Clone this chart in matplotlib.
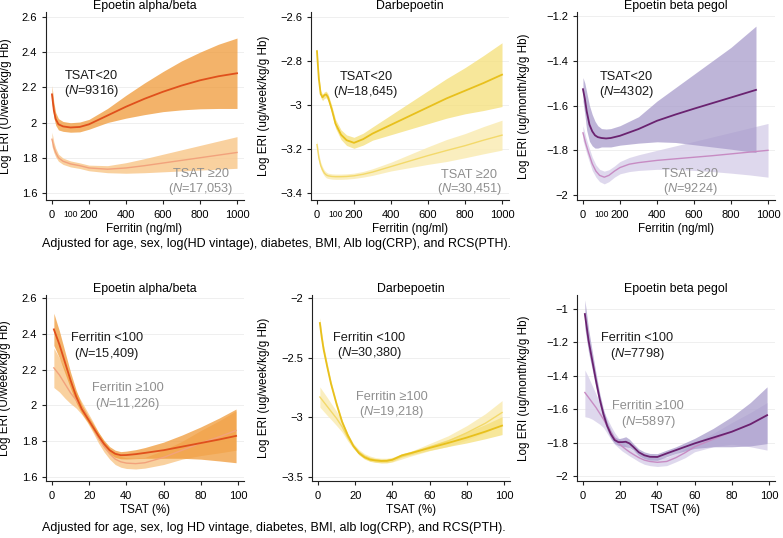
import matplotlib
matplotlib.use('Agg')
import matplotlib.pyplot as plt

plt.rcParams['font.family'] = ['Liberation Sans', 'DejaVu Sans']
plt.rcParams['mathtext.fontset'] = 'custom'
plt.rcParams['mathtext.rm'] = 'Liberation Sans'
plt.rcParams['mathtext.it'] = 'Liberation Sans:italic'

# ---------------- data ----------------
titles = ["Epoetin alpha/beta", "Darbepoetin", "Epoetin beta pegol"]
ylabels = ["Log ERI (U/week/kg/g Hb)", "Log ERI (ug/week/kg/g Hb)", "Log ERI (ug/month/kg/g Hb)"]
caption_top = "Adjusted for age, sex, log(HD vintage), diabetes, BMI, Alb log(CRP), and RCS(PTH)."
caption_bottom = "Adjusted for age, sex, log HD vintage, diabetes, BMI, alb log(CRP), and RCS(PTH)."

# Panel A: Epoetin alpha/beta vs ferritin
FA = [0, 10, 20, 35, 60, 100, 150, 200, 300, 400, 500, 600, 700, 800, 900, 1000]
A_dark = [2.16, 2.07, 2.02, 1.99, 1.978, 1.972, 1.975, 1.99, 2.04, 2.09, 2.135, 2.175, 2.21, 2.24, 2.263, 2.28]
A_dark_lo = [2.11, 2.03, 1.985, 1.958, 1.95, 1.945, 1.947, 1.962, 2.0, 2.025, 2.045, 2.062, 2.072, 2.078, 2.08, 2.08]
A_dark_hi = [2.21, 2.115, 2.057, 2.022, 2.006, 1.999, 2.003, 2.018, 2.08, 2.155, 2.225, 2.29, 2.35, 2.40, 2.445, 2.48]
A_light = [1.905, 1.86, 1.83, 1.80, 1.78, 1.765, 1.755, 1.742, 1.735, 1.742, 1.755, 1.77, 1.785, 1.80, 1.815, 1.83]
A_light_lo = [1.865, 1.83, 1.805, 1.78, 1.762, 1.748, 1.739, 1.726, 1.715, 1.712, 1.715, 1.72, 1.725, 1.73, 1.735, 1.74]
A_light_hi = [1.945, 1.89, 1.855, 1.82, 1.798, 1.782, 1.771, 1.758, 1.755, 1.772, 1.795, 1.82, 1.845, 1.87, 1.895, 1.92]

# Panel B: Darbepoetin vs ferritin
FB = [0, 5, 10, 20, 30, 40, 50, 60, 80, 100, 130, 160, 200, 250, 300, 400, 500, 600, 700, 800, 900, 1000]
B_dark = [-2.755, -2.82, -2.88, -2.95, -2.965, -2.955, -2.952, -2.965, -3.02, -3.085, -3.135, -3.16, -3.172, -3.155, -3.13, -3.09, -3.05, -3.01, -2.97, -2.935, -2.9, -2.862]
B_dark_lo = [-2.767, -2.832, -2.893, -2.965, -2.98, -2.97, -2.967, -2.98, -3.037, -3.105, -3.157, -3.184, -3.197, -3.182, -3.16, -3.135, -3.11, -3.085, -3.06, -3.04, -3.025, -3.007]
B_dark_hi = [-2.743, -2.808, -2.867, -2.935, -2.95, -2.94, -2.937, -2.95, -3.003, -3.065, -3.113, -3.136, -3.147, -3.128, -3.10, -3.045, -2.99, -2.935, -2.88, -2.83, -2.775, -2.717]
B_light = [-3.18, -3.21, -3.24, -3.275, -3.295, -3.31, -3.318, -3.322, -3.325, -3.326, -3.326, -3.325, -3.322, -3.315, -3.305, -3.28, -3.255, -3.23, -3.207, -3.185, -3.16, -3.137]
B_light_lo = [-3.2, -3.228, -3.257, -3.29, -3.309, -3.323, -3.331, -3.334, -3.337, -3.338, -3.338, -3.337, -3.334, -3.328, -3.32, -3.30, -3.285, -3.27, -3.257, -3.24, -3.222, -3.205]
B_light_hi = [-3.16, -3.192, -3.223, -3.26, -3.281, -3.297, -3.305, -3.31, -3.313, -3.314, -3.314, -3.313, -3.31, -3.302, -3.29, -3.26, -3.225, -3.19, -3.157, -3.13, -3.098, -3.069]

# Panel C: Epoetin beta pegol vs ferritin
FC_dark = [0, 10, 20, 35, 50, 65, 80, 100, 125, 150, 200, 300, 400, 500, 600, 700, 800, 935]
C_dark = [-1.527, -1.57, -1.625, -1.685, -1.715, -1.733, -1.741, -1.745, -1.747, -1.745, -1.735, -1.705, -1.668, -1.64, -1.614, -1.589, -1.564, -1.53]
C_dark_lo = [-1.58, -1.64, -1.71, -1.76, -1.78, -1.79, -1.79, -1.785, -1.785, -1.785, -1.777, -1.768, -1.762, -1.765, -1.775, -1.785, -1.795, -1.81]
C_dark_hi = [-1.475, -1.5, -1.54, -1.6, -1.64, -1.67, -1.69, -1.703, -1.705, -1.703, -1.69, -1.65, -1.58, -1.52, -1.46, -1.40, -1.34, -1.245]
FC_light = [0, 15, 30, 50, 70, 90, 115, 140, 170, 200, 250, 300, 400, 500, 600, 700, 800, 900, 1000]
C_light = [-1.722, -1.77, -1.81, -1.86, -1.893, -1.912, -1.92, -1.912, -1.893, -1.877, -1.862, -1.855, -1.845, -1.838, -1.831, -1.824, -1.816, -1.808, -1.80]
C_light_lo = [-1.755, -1.8, -1.84, -1.89, -1.92, -1.94, -1.95, -1.94, -1.92, -1.905, -1.895, -1.89, -1.885, -1.885, -1.89, -1.895, -1.902, -1.91, -1.92]
C_light_hi = [-1.69, -1.74, -1.78, -1.83, -1.865, -1.885, -1.893, -1.887, -1.87, -1.85, -1.832, -1.82, -1.80, -1.78, -1.76, -1.74, -1.72, -1.70, -1.68]

# Panel D: Epoetin alpha/beta vs TSAT
TD = [1, 4, 7, 10, 13, 16, 19, 22, 25, 28, 31, 34, 37, 40, 45, 50, 60, 70, 80, 90, 99]
D_dark = [2.425, 2.34, 2.24, 2.14, 2.05, 1.98, 1.93, 1.88, 1.83, 1.785, 1.75, 1.73, 1.722, 1.723, 1.728, 1.735, 1.75, 1.77, 1.79, 1.81, 1.83]
D_dark_lo = [2.335, 2.265, 2.18, 2.095, 2.015, 1.955, 1.91, 1.86, 1.81, 1.765, 1.73, 1.71, 1.702, 1.701, 1.703, 1.705, 1.705, 1.705, 1.70, 1.69, 1.68]
D_dark_hi = [2.515, 2.415, 2.30, 2.185, 2.085, 2.005, 1.95, 1.90, 1.85, 1.805, 1.77, 1.75, 1.742, 1.745, 1.753, 1.765, 1.795, 1.835, 1.88, 1.93, 1.98]
D_light = [2.21, 2.17, 2.12, 2.07, 2.03, 1.985, 1.935, 1.88, 1.82, 1.77, 1.73, 1.70, 1.685, 1.678, 1.675, 1.68, 1.71, 1.75, 1.79, 1.825, 1.86]
D_light_lo = [2.10, 2.075, 2.04, 2.01, 1.985, 1.95, 1.905, 1.85, 1.79, 1.74, 1.70, 1.67, 1.655, 1.648, 1.645, 1.65, 1.67, 1.70, 1.72, 1.735, 1.75]
D_light_hi = [2.32, 2.265, 2.20, 2.13, 2.075, 2.02, 1.965, 1.91, 1.85, 1.80, 1.76, 1.73, 1.715, 1.708, 1.705, 1.71, 1.75, 1.80, 1.86, 1.915, 1.97]

# Panel E: Darbepoetin vs TSAT
TE = [1, 2, 3, 5, 7, 10, 13, 16, 19, 22, 25, 28, 31, 34, 37, 40, 45, 50, 60, 70, 80, 90, 99]
E_dark = [-2.21, -2.33, -2.43, -2.58, -2.72, -2.89, -3.04, -3.15, -3.24, -3.30, -3.335, -3.355, -3.362, -3.366, -3.365, -3.356, -3.32, -3.30, -3.257, -3.215, -3.17, -3.12, -3.07]
E_dark_lo = [-2.255, -2.37, -2.465, -2.61, -2.745, -2.91, -3.057, -3.165, -3.255, -3.315, -3.35, -3.37, -3.377, -3.381, -3.38, -3.371, -3.335, -3.315, -3.277, -3.245, -3.215, -3.18, -3.145]
E_dark_hi = [-2.165, -2.29, -2.395, -2.55, -2.695, -2.87, -3.023, -3.135, -3.225, -3.285, -3.32, -3.34, -3.347, -3.351, -3.35, -3.341, -3.305, -3.285, -3.237, -3.185, -3.125, -3.06, -2.995]
E_light = [-2.83, -2.85, -2.87, -2.91, -2.95, -3.01, -3.08, -3.17, -3.24, -3.29, -3.325, -3.345, -3.358, -3.363, -3.363, -3.355, -3.33, -3.305, -3.25, -3.2, -3.13, -3.05, -2.96]
E_light_lo = [-2.915, -2.932, -2.95, -2.985, -3.018, -3.07, -3.125, -3.2, -3.262, -3.31, -3.345, -3.365, -3.378, -3.383, -3.383, -3.375, -3.35, -3.325, -3.28, -3.245, -3.19, -3.13, -3.06]
E_light_hi = [-2.745, -2.768, -2.79, -2.835, -2.882, -2.95, -3.035, -3.14, -3.218, -3.27, -3.305, -3.325, -3.338, -3.343, -3.343, -3.335, -3.31, -3.285, -3.22, -3.155, -3.07, -2.97, -2.86]

# Panel F: Epoetin beta pegol vs TSAT
TF = [1, 3, 5, 7, 9, 11, 13, 15, 17, 19, 21, 23, 25, 27, 30, 33, 36, 40, 45, 50, 55, 60, 70, 80, 90, 99]
F_dark = [-1.03, -1.19, -1.31, -1.43, -1.54, -1.63, -1.70, -1.75, -1.785, -1.797, -1.797, -1.795, -1.805, -1.825, -1.858, -1.876, -1.885, -1.886, -1.865, -1.845, -1.825, -1.805, -1.77, -1.735, -1.69, -1.636]
F_dark_lo = [-1.115, -1.26, -1.365, -1.475, -1.575, -1.66, -1.725, -1.775, -1.805, -1.817, -1.822, -1.825, -1.83, -1.845, -1.878, -1.896, -1.905, -1.906, -1.885, -1.865, -1.85, -1.835, -1.825, -1.825, -1.82, -1.806]
F_dark_hi = [-0.945, -1.12, -1.255, -1.385, -1.505, -1.60, -1.675, -1.725, -1.765, -1.777, -1.772, -1.765, -1.78, -1.805, -1.838, -1.856, -1.865, -1.866, -1.845, -1.825, -1.80, -1.775, -1.715, -1.645, -1.56, -1.466]
F_light = [-1.5, -1.53, -1.56, -1.59, -1.625, -1.66, -1.70, -1.74, -1.775, -1.80, -1.822, -1.84, -1.856, -1.87, -1.89, -1.905, -1.913, -1.918, -1.913, -1.89, -1.86, -1.825, -1.78, -1.735, -1.69, -1.635]
F_light_lo = [-1.645, -1.65, -1.66, -1.675, -1.69, -1.71, -1.745, -1.78, -1.81, -1.83, -1.85, -1.865, -1.88, -1.893, -1.914, -1.93, -1.938, -1.943, -1.938, -1.915, -1.89, -1.855, -1.825, -1.81, -1.825, -1.845]
F_light_hi = [-1.365, -1.41, -1.46, -1.51, -1.56, -1.61, -1.655, -1.70, -1.74, -1.77, -1.795, -1.815, -1.832, -1.847, -1.866, -1.88, -1.888, -1.893, -1.888, -1.865, -1.835, -1.80, -1.745, -1.68, -1.62, -1.56]

# tick labels
ticks_ferritin = [0, 200, 400, 600, 800, 1000]
ticks_tsat = [0, 20, 40, 60, 80, 100]
yt = {
    'A': [1.6, 1.8, 2.0, 2.2, 2.4, 2.6],
    'B': [-3.4, -3.2, -3.0, -2.8, -2.6],
    'C': [-2.0, -1.8, -1.6, -1.4, -1.2],
    'D': [1.6, 1.8, 2.0, 2.2, 2.4, 2.6],
    'E': [-3.5, -3.0, -2.5, -2.0],
    'F': [-2.0, -1.8, -1.6, -1.4, -1.2, -1.0],
}

# annotation labels
ann = {
    'A': [("TSAT<20", r"($\mathit{N}$=9316)", 215, 2.262, 2.182),
          ("TSAT \u226520", r"($\mathit{N}$=17,053)", 805, 1.705, 1.622)],
    'B': [("TSAT<20", r"($\mathit{N}$=18,645)", 265, -2.873, -2.94),
          ("TSAT \u226520", r"($\mathit{N}$=30,451)", 824, -3.318, -3.382)],
    'C': [("TSAT<20", r"($\mathit{N}$=4302)", 232, -1.473, -1.538),
          ("TSAT \u226520", r"($\mathit{N}$=9224)", 580, -1.905, -1.973)],
    'D': [("Ferritin <100", r"($\mathit{N}$=15,409)", 29.6, 2.377, 2.29),
          ("Ferritin \u2265100", r"($\mathit{N}$=11,226)", 40.6, 2.097, 2.008)],
    'E': [("Ferritin <100", r"($\mathit{N}$=30,380)", 27.6, -2.335, -2.465),
          ("Ferritin \u2265100", r"($\mathit{N}$=19,218)", 39.5, -2.83, -2.955)],
    'F': [("Ferritin <100", r"($\mathit{N}$=7798)", 29.2, -1.174, -1.27),
          ("Ferritin \u2265100", r"($\mathit{N}$=5897)", 35.1, -1.578, -1.674)],
}

# ---------------- styling ----------------
pal = {
    'orange': dict(band_d='#f09a38', band_l='#f9c98e', line_d='#e0501c', line_l='#f2a27c'),
    'yellow': dict(band_d='#f5df78', band_l='#faecb4', line_d='#e8c01c', line_l='#f3d96a'),
    'purple': dict(band_d='#a99dcc', band_l='#d9d2ea', line_d='#6a2270', line_l='#c78bc3'),
}

W, H = 783, 538
fig = plt.figure(figsize=(W / 100, H / 100), dpi=100)

def make_ax(left_px, top_px, bottom_px, width_px=198):
    return fig.add_axes([left_px / W, 1 - bottom_px / H, width_px / W, (bottom_px - top_px) / H])

FS_TICK = 8.0
FS_TITLE = 8.9
FS_LAB = 8.4
FS_ANN = 9.2
FS_CAP = 9.0

def style(ax, xlim, ylim, xticks, yticks, title, ylabel, xlabel, ylab_px, left_px):
    ax.set_xlim(*xlim)
    ax.set_ylim(*ylim)
    for s in ['top', 'right']:
        ax.spines[s].set_visible(False)
    for s in ['left', 'bottom']:
        ax.spines[s].set_linewidth(0.8)
        ax.spines[s].set_color('#222222')
    ax.set_xticks(xticks)
    ax.set_xticklabels([str(t) for t in xticks], fontsize=FS_TICK)
    ax.set_yticks(yticks)
    ax.set_yticklabels([('%g' % t).replace('-', '\u2212') for t in yticks], fontsize=FS_TICK)
    ax.tick_params(length=3, width=0.8, color='#222222')
    ax.tick_params(axis='x', pad=4.5)
    ax.tick_params(axis='y', pad=3)
    for t in yticks:
        ax.axhline(t, color='#efefef', lw=0.7, zorder=0)
    ax.set_title(title, fontsize=FS_TITLE, pad=-2)
    ax.set_xlabel(xlabel, fontsize=FS_LAB, labelpad=2)
    ax.set_ylabel(ylabel, fontsize=FS_LAB)
    ax.yaxis.set_label_coords((ylab_px + 5 - left_px) / 198, 0.5)

def draw(ax, col, xd, yd, lod, hid, xl, yl, lol, hil):
    c = pal[col]
    ax.fill_between(xl, lol, hil, color=c['band_l'], alpha=0.85, lw=0, zorder=1)
    ax.fill_between(xd, lod, hid, color=c['band_d'], alpha=0.75, lw=0, zorder=2)
    ax.plot(xl, yl, color=c['line_l'], lw=1.0, zorder=3)
    ax.plot(xd, yd, color=c['line_d'], lw=1.3, zorder=4)

def annotate(ax, key):
    (t1, n1, x1, y1a, y1b), (t2, n2, x2, y2a, y2b) = ann[key]
    ax.text(x1, y1a, t1, ha='center', va='center', fontsize=FS_ANN, color='#1a1a1a', zorder=5)
    ax.text(x1, y1b, n1, ha='center', va='center', fontsize=FS_ANN, color='#1a1a1a', zorder=5)
    ax.text(x2, y2a, t2, ha='center', va='center', fontsize=FS_ANN, color='#8f8f8f', zorder=5)
    ax.text(x2, y2b, n2, ha='center', va='center', fontsize=FS_ANN, color='#8f8f8f', zorder=5)

def hundred(ax):
    ax.set_xticks([100], minor=True)
    ax.set_xticklabels(['100'], minor=True, fontsize=6.2)
    ax.tick_params(axis='x', which='minor', length=0, pad=7.5)

fx = (-35, 1035)
tx = (-3.5, 103)

# top row
axA = make_ax(45.5, 12, 200)
draw(axA, 'orange', FA, A_dark, A_dark_lo, A_dark_hi, FA, A_light, A_light_lo, A_light_hi)
style(axA, fx, (1.560, 2.628), ticks_ferritin, yt['A'], titles[0], ylabels[0], "Ferritin (ng/ml)", 7, 45.5)
hundred(axA); annotate(axA, 'A')

axB = make_ax(310.5, 12, 200)
draw(axB, 'yellow', FB, B_dark, B_dark_lo, B_dark_hi, FB, B_light, B_light_lo, B_light_hi)
style(axB, fx, (-3.432, -2.577), ticks_ferritin, yt['B'], titles[1], ylabels[1], "Ferritin (ng/ml)", 265, 310.5)
hundred(axB); annotate(axB, 'B')

axC = make_ax(576.5, 12, 200)
draw(axC, 'purple', FC_dark, C_dark, C_dark_lo, C_dark_hi, FC_light, C_light, C_light_lo, C_light_hi)
style(axC, fx, (-2.022, -1.182), ticks_ferritin, yt['C'], titles[2], ylabels[2], "Ferritin (ng/ml)", 525, 576.5)
hundred(axC); annotate(axC, 'C')

# bottom row
axD = make_ax(45.5, 295, 481)
draw(axD, 'orange', TD, D_dark, D_dark_lo, D_dark_hi, TD, D_light, D_light_lo, D_light_hi)
style(axD, tx, (1.578, 2.617), ticks_tsat, yt['D'], titles[0], ylabels[0], "TSAT (%)", 6, 45.5)
annotate(axD, 'D')

axE = make_ax(311.5, 295, 481)
draw(axE, 'yellow', TE, E_dark, E_dark_lo, E_dark_hi, TE, E_light, E_light_lo, E_light_hi)
style(axE, tx, (-3.534, -1.975), ticks_tsat, yt['E'], titles[1], ylabels[1], "TSAT (%)", 265, 311.5)
annotate(axE, 'E')

axF = make_ax(576.5, 295, 481)
draw(axF, 'purple', TF, F_dark, F_dark_lo, F_dark_hi, TF, F_light, F_light_lo, F_light_hi)
style(axF, tx, (-2.03, -0.916), ticks_tsat, yt['F'], titles[2], ylabels[2], "TSAT (%)", 525, 576.5)
annotate(axF, 'F')

fig.text(42 / W, 1 - 244 / H, caption_top, ha='left', va='center', fontsize=FS_CAP)
fig.text(42 / W, 1 - 528 / H, caption_bottom, ha='left', va='center', fontsize=FS_CAP)

fig.savefig('out.png', dpi=100)
